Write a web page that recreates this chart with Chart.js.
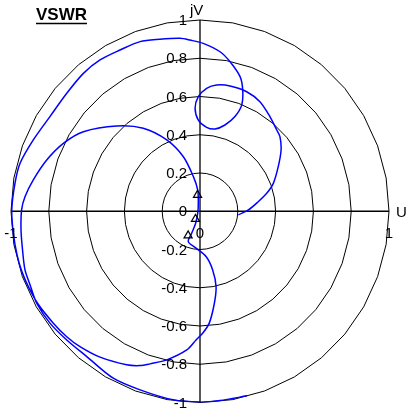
<!DOCTYPE html>
<html>
<head>
<meta charset="utf-8">
<script src="https://cdn.jsdelivr.net/npm/chart.js@4.4.1/dist/chart.umd.min.js"></script>
<style>
  html, body { margin: 0; padding: 0; background: #fff; }
  canvas { display: block; }
</style>
</head>
<body>
<canvas id="vswrChart" width="406" height="410"></canvas>
<script>
const curveU = [0.203, 0.256, 0.308, 0.353, 0.388, 0.414, 0.429, 0.423, 0.406, 0.370,
  0.317, 0.247, 0.159, 0.088, 0.035, -0.009, -0.026, -0.009, 0.035, 0.079,
  0.132, 0.185, 0.221, 0.226, 0.212, 0.159, 0.106, 0.017, -0.053, -0.106,
  -0.212, -0.317, -0.423, -0.529, -0.617, -0.705, -0.794, -0.882, -0.952, -0.979,
  -0.996, -0.988, -0.968, -0.942, -0.905, -0.857, -0.776, -0.705, -0.635, -0.529,
  -0.388, -0.317, -0.265, -0.176, -0.070, -0.021, 0.014, 0.049, 0.076, 0.085,
  0.067, 0.032, -0.021, -0.062, -0.044, -0.023, -0.012, -0.009, -0.012, -0.035,
  -0.088, -0.176, -0.300, -0.441, -0.617, -0.723, -0.811, -0.882, -0.926, -0.944,
  -0.947, -0.939, -0.926, -0.899, -0.864, -0.794, -0.705, -0.599, -0.459, -0.317,
  -0.143, 0.000, 0.106, 0.249];
const curveV = [-0.019, 0.007, 0.050, 0.094, 0.146, 0.233, 0.320, 0.390, 0.425, 0.495,
  0.573, 0.625, 0.655, 0.660, 0.643, 0.599, 0.538, 0.477, 0.439, 0.430,
  0.451, 0.495, 0.556, 0.634, 0.704, 0.782, 0.834, 0.878, 0.895, 0.904,
  0.899, 0.887, 0.843, 0.791, 0.721, 0.617, 0.495, 0.373, 0.251, 0.146,
  0.007, -0.113, -0.228, -0.317, -0.401, -0.485, -0.585, -0.656, -0.708, -0.763,
  -0.803, -0.807, -0.798, -0.777, -0.725, -0.673, -0.638, -0.585, -0.481, -0.394,
  -0.307, -0.237, -0.193, -0.159, -0.115, -0.063, -0.010, 0.042, 0.111, 0.181,
  0.285, 0.373, 0.434, 0.446, 0.416, 0.355, 0.268, 0.164, 0.076, 0.007,
  -0.098, -0.202, -0.307, -0.385, -0.481, -0.585, -0.673, -0.760, -0.873, -0.934,
  -0.986, -0.998, -0.990, -0.965];

// frequency markers
const markerU = [-0.013, -0.024, -0.063];
const markerV = [0.085, -0.041, -0.127];

// constant |r| circles and axis ticks
const circleRadii = [0.2, 0.4, 0.6, 0.8, 1];
const vTicks = [1, 0.8, 0.6, 0.4, 0.2, 0, -0.2, -0.4, -0.6, -0.8, -1];
const vTickLabels = ['1', '0.8', '0.6', '0.4', '0.2', '0', '-0.2', '-0.4', '-0.6', '-0.8', '-1'];
const uTicks = [-1, 0, 1];
const uTickLabels = ['-1', '0', '1'];

const FONT = '"Liberation Sans", Arial, sans-serif';

const curvePts = curveU.map((u, i) => ({ x: u, y: curveV[i] }));
const markerPts = markerU.map((u, i) => ({ x: u, y: markerV[i] }));

const polarGrid = {
  id: 'polarGrid',
  beforeDatasetsDraw(chart) {
    const ctx = chart.ctx;
    const xs = chart.scales.x, ys = chart.scales.y;
    ctx.save();
    ctx.strokeStyle = '#000';
    ctx.lineWidth = 1;
    circleRadii.forEach(r => {
      ctx.beginPath();
      for (let k = 0; k <= 36; k++) {
        const a = k * Math.PI / 18;
        const px = xs.getPixelForValue(r * Math.cos(a));
        const py = ys.getPixelForValue(r * Math.sin(a));
        if (k === 0) ctx.moveTo(px, py); else ctx.lineTo(px, py);
      }
      ctx.stroke();
    });
    // axes through the origin
    const x0 = xs.getPixelForValue(0), y0 = ys.getPixelForValue(0);
    ctx.lineWidth = 1.3;
    ctx.beginPath();
    ctx.moveTo(xs.getPixelForValue(-1), y0);
    ctx.lineTo(xs.getPixelForValue(1), y0);
    ctx.moveTo(x0, ys.getPixelForValue(1));
    ctx.lineTo(x0, ys.getPixelForValue(-1));
    ctx.stroke();
    ctx.restore();
  },
  afterDraw(chart) {
    const ctx = chart.ctx;
    const xs = chart.scales.x, ys = chart.scales.y;
    const x0 = xs.getPixelForValue(0), y0 = ys.getPixelForValue(0);
    ctx.save();
    ctx.fillStyle = '#000';
    ctx.font = '15px ' + FONT;
    ctx.textAlign = 'right';
    ctx.textBaseline = 'middle';
    vTicks.forEach((v, i) => {
      ctx.fillText(vTickLabels[i], x0 - 13, ys.getPixelForValue(v) + 1);
    });
    ctx.textAlign = 'center';
    uTicks.forEach((u, i) => {
      ctx.fillText(uTickLabels[i], xs.getPixelForValue(u), y0 + 23);
    });
    // axis names
    ctx.textAlign = 'left';
    ctx.fillText('jV', x0 - 10, 11);
    ctx.fillText('U', xs.getPixelForValue(1) + 7, y0 + 2);
    // title
    ctx.font = 'bold 17px ' + FONT;
    ctx.fillText('VSWR', 36, 15);
    const w = ctx.measureText('VSWR').width;
    ctx.lineWidth = 1.5;
    ctx.beginPath();
    ctx.moveTo(36, 23.5);
    ctx.lineTo(36 + w, 23.5);
    ctx.stroke();
    ctx.restore();
  }
};

new Chart(document.getElementById('vswrChart'), {
  type: 'scatter',
  data: {
    datasets: [
      {
        label: 'markers',
        data: markerPts,
        pointStyle: 'triangle',
        pointRadius: 4.7,
        borderColor: '#000',
        borderWidth: 1.2,
        backgroundColor: 'rgba(0,0,0,0)',
        showLine: false
      },
      {
        label: 'VSWR',
        data: curvePts,
        showLine: true,
        borderColor: '#0000ff',
        borderWidth: 1.5,
        pointRadius: 0,
        tension: 0.3,
        fill: false
      }
    ]
  },
  options: {
    responsive: false,
    animation: false,
    devicePixelRatio: 1,
    layout: { padding: { left: 11, right: 17, top: 20, bottom: 7.5 } },
    plugins: { legend: { display: false }, tooltip: { enabled: false } },
    scales: {
      x: { type: 'linear', min: -1, max: 1, display: false },
      y: { type: 'linear', min: -1, max: 1, display: false }
    }
  },
  plugins: [polarGrid]
});
</script>
</body>
</html>
